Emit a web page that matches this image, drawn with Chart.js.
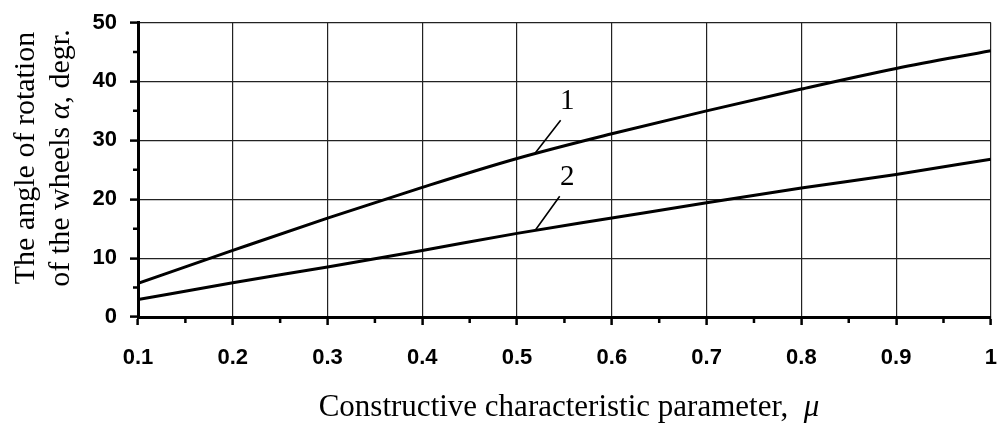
<!DOCTYPE html>
<html>
<head>
<meta charset="utf-8">
<script src="https://cdn.jsdelivr.net/npm/chart.js@4.4.0/dist/chart.umd.min.js"></script>
<style>
  body { margin: 0; background: #fff; }
  #wrap { width: 997px; height: 424px; }
</style>
</head>
<body>
<div id="wrap"><canvas id="myChart" width="997" height="424"></canvas></div>
<script>
// arvot luettu kuvasta silmämääräisesti
const mu = [0.1, 0.2, 0.3, 0.4, 0.5, 0.6, 0.7, 0.8, 0.9, 1.0]
const curve1 = [5.7, 11.3, 16.8, 22.0, 26.9, 31.1, 35.0, 38.7, 42.2, 45.2]
const curve2 = [2.95, 5.8, 8.5, 11.3, 14.2, 16.8, 19.4, 21.9, 24.2, 26.8]

const xTicks = [0.1, 0.2, 0.3, 0.4, 0.5, 0.6, 0.7, 0.8, 0.9, 1.0]
const xTickLabels = ['0.1', '0.2', '0.3', '0.4', '0.5', '0.6', '0.7', '0.8', '0.9', '1']
const xMinor = [0.15, 0.25, 0.35, 0.45, 0.55, 0.65, 0.75, 0.85, 0.95]
const yTicks = [0, 10, 20, 30, 40, 50]
const yTickLabels = ['0', '10', '20', '30', '40', '50']
const yMinor = [5, 15, 25, 35, 45]

// käyrien numerot ja viivat (data-koordinaateissa)
const curveNames = ['1', '2']
const namePos = [[0.553, 36.6], [0.553, 23.7]]
const leaderFrom = [[0.546, 33.4], [0.545, 20.5]]
const leaderTo = [[0.519, 27.8], [0.519, 14.7]]

const yTitle1 = 'The angle of rotation'
const yTitle2 = ['of the wheels ', 'α', ', degr.']
const xTitle = ['Constructive characteristic parameter,  ', 'μ']

const serif = '"Liberation Serif", "Times New Roman", serif'

// piirretään pienet tickit, numerot ja akseleiden otsikot
const extras = {
  id: 'extras',
  afterDraw(chart) {
    const ctx = chart.ctx
    const x = chart.scales.x
    const y = chart.scales.y
    const a = chart.chartArea
    ctx.save()
    ctx.strokeStyle = '#000'
    ctx.lineWidth = 2.5
    ctx.beginPath()
    xMinor.forEach(v => {
      let px = x.getPixelForValue(v)
      ctx.moveTo(px, a.bottom)
      ctx.lineTo(px, a.bottom + 6)
    })
    yMinor.forEach(v => {
      let py = y.getPixelForValue(v)
      ctx.moveTo(a.left, py)
      ctx.lineTo(a.left - 5, py)
    })
    ctx.stroke()

    ctx.lineWidth = 1.6
    ctx.beginPath()
    for (let i = 0; i < curveNames.length; i++) {
      ctx.moveTo(x.getPixelForValue(leaderFrom[i][0]), y.getPixelForValue(leaderFrom[i][1]))
      ctx.lineTo(x.getPixelForValue(leaderTo[i][0]), y.getPixelForValue(leaderTo[i][1]))
    }
    ctx.stroke()

    ctx.fillStyle = '#000'
    ctx.font = '29px ' + serif
    ctx.textAlign = 'center'
    ctx.textBaseline = 'middle'
    for (let i = 0; i < curveNames.length; i++) {
      ctx.fillText(curveNames[i], x.getPixelForValue(namePos[i][0]), y.getPixelForValue(namePos[i][1]))
    }

    // x-akselin otsikko
    ctx.textAlign = 'left'
    ctx.textBaseline = 'alphabetic'
    ctx.font = '31px ' + serif
    let w1 = ctx.measureText(xTitle[0]).width
    ctx.font = 'italic 31px ' + serif
    let w2 = ctx.measureText(xTitle[1]).width
    let sx = 569 - (w1 + w2) / 2
    ctx.font = '31px ' + serif
    ctx.fillText(xTitle[0], sx, 416)
    ctx.font = 'italic 31px ' + serif
    ctx.fillText(xTitle[1], sx + w1, 416)

    // y-akselin otsikko, kaksi riviä
    ctx.translate(0, 158)
    ctx.rotate(-Math.PI / 2)
    ctx.font = '30px ' + serif
    ctx.textAlign = 'center'
    ctx.fillText(yTitle1, 0, 34)
    ctx.textAlign = 'left'
    let widths = yTitle2.map((t, i) => {
      ctx.font = (i === 1 ? 'italic ' : '') + '30px ' + serif
      return ctx.measureText(t).width
    })
    let pos = -(widths[0] + widths[1] + widths[2]) / 2
    yTitle2.forEach((t, i) => {
      ctx.font = (i === 1 ? 'italic ' : '') + '30px ' + serif
      ctx.fillText(t, pos, 69)
      pos += widths[i]
    })
    ctx.restore()
  }
}

const chart = new Chart(document.getElementById('myChart'), {
  type: 'line',
  data: {
    datasets: [
      {
        label: '1',
        data: mu.map((v, i) => ({ x: v, y: curve1[i] })),
        borderColor: '#000',
        borderWidth: 3,
        pointRadius: 0,
        fill: false,
        cubicInterpolationMode: 'monotone'
      },
      {
        label: '2',
        data: mu.map((v, i) => ({ x: v, y: curve2[i] })),
        borderColor: '#000',
        borderWidth: 3,
        pointRadius: 0,
        fill: false,
        cubicInterpolationMode: 'monotone'
      }
    ]
  },
  options: {
    responsive: false,
    animation: false,
    layout: { padding: { top: 22.5, right: 5, bottom: 0, left: 0 } },
    plugins: { legend: { display: false }, tooltip: { enabled: false } },
    scales: {
      x: {
        type: 'linear',
        min: 0.1,
        max: 1,
        afterBuildTicks: s => { s.ticks = xTicks.map(v => ({ value: v })) },
        afterFit: s => { s.height = 107 },
        ticks: {
          callback: v => xTickLabels[xTicks.indexOf(v)],
          font: { family: '"Liberation Sans", Arial, sans-serif', size: 22, weight: 'bold', lineHeight: 3.0 },
          color: '#000',
          padding: 0,
          maxRotation: 0,
          autoSkip: false
        },
        grid: { color: '#222', lineWidth: 1.2, tickLength: 8, tickColor: '#000', tickWidth: 2.5 },
        border: { color: '#000', width: 3 }
      },
      y: {
        min: 0,
        max: 50,
        afterBuildTicks: s => { s.ticks = yTicks.map(v => ({ value: v })) },
        afterFit: s => { s.width = 138 },
        ticks: {
          callback: v => yTickLabels[yTicks.indexOf(v)],
          font: { family: '"Liberation Sans", Arial, sans-serif', size: 22, weight: 'bold', lineHeight: 0.8 },
          color: '#000',
          padding: 13
        },
        grid: { color: '#222', lineWidth: 1.2, tickLength: 8, tickColor: '#000', tickWidth: 2.5 },
        border: { color: '#000', width: 3 }
      }
    }
  },
  plugins: [extras]
})
</script>
</body>
</html>
